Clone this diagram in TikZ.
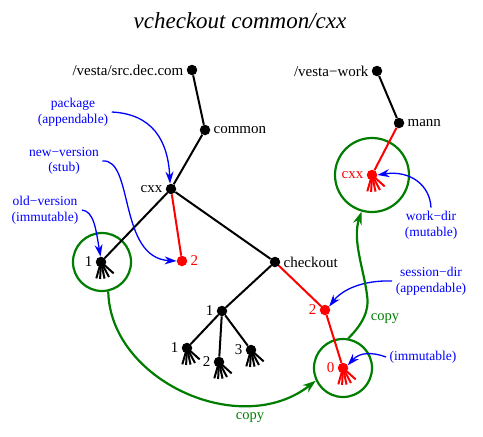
\documentclass[tikz,border=0pt]{standalone}
\usepackage{fontspec}
\setmainfont{Liberation Serif}
\usetikzlibrary{arrows.meta}
\definecolor{copygreen}{RGB}{0,125,0}

\begin{document}
\begin{tikzpicture}[x = 1pt, y = -1pt,
    dot/.style = {circle, fill, inner sep = 0pt, minimum size = 10.5pt},
    ring/.style = {circle, draw = copygreen, line width = 2.2pt, inner sep = 0pt},
    tree/.style = {line width = 2pt},
    note/.style = {blue, align = center, font = \fontsize{13.5}{15.5}\selectfont},
    notearrow/.style = {blue, line width = 1.3pt, -{Stealth[length = 12pt, width = 8pt]}},
    copyarrow/.style = {copygreen, line width = 2.2pt, -{Stealth[length = 13pt, width = 9pt]}},
    every label/.style = {font = \fontsize{15}{16}\selectfont, inner sep = 3pt}]
    \useasboundingbox (0,0) rectangle (483,437);

    \node[font = \itshape\fontsize{23}{26}\selectfont] (title) at (240,21) {vcheckout common/cxx};

    % repository side
    \node[dot, label = left:/vesta/src.dec.com] (src) at (192,70) {};
    \node[dot, label = right:common] (common) at (205,130) {};
    \node[dot, label = left:cxx] (cxx) at (171,189) {};
    \node[dot, label = left:1] (old) at (101,262) {};
    \node[dot, red, label = {[red]right:2}] (stub) at (182,261) {};
    \node[dot, label = right:checkout] (checkout) at (275,262) {};
    \node[dot, label = left:1] (co1) at (222,311) {};
    \node[dot, label = left:1] (kid1) at (187,348) {};
    \node[dot, label = left:2] (kid2) at (219,362) {};
    \node[dot, label = left:3] (kid3) at (251,350) {};
    \node[dot, red, label = {[red]left:2}] (sess) at (325,310) {};
    \node[dot, red, label = {[red]left:0}] (zero) at (343,368) {};

    % work side
    \node[dot, label = left:/vesta−work] (vwork) at (377,71) {};
    \node[dot, label = right:mann] (mann) at (399,123) {};
    \node[dot, red, label = {[red]left:cxx}] (work) at (372,175) {};

    \node[ring, minimum size = 58pt] (oldring) at (102,262) {};
    \node[ring, minimum size = 58pt] (zeroring) at (343,368) {};
    \node[ring, minimum size = 74pt] (workring) at (372,175) {};

    \draw[tree]
        (src) -- (common) -- (cxx) -- (old)
        (cxx) -- (checkout) -- (co1) -- (kid1)
        (co1) -- (kid2)
        (co1) -- (kid3)
        (vwork) -- (mann);
    \draw[tree, red]
        (cxx) -- (stub)
        (checkout) -- (sess) -- (zero)
        (mann) -- (work);

    % brushes under the versions
    \foreach \n in {old, kid1, kid2, kid3}
        \foreach \a in {106, 93, 78, 62, 42}
            \draw[line width = 2pt] (\n.center) -- ++(\a:17);
    \foreach \n in {zero, work}
        \foreach \a in {106, 93, 78, 62, 42}
            \draw[line width = 2pt, red] (\n.center) -- ++(\a:17);

    % annotations
    \node[note] (pkg) at (73,112) {package\\(appendable)};
    \node[note] (newv) at (64,161) {new−version\\(stub)};
    \node[note] (oldv) at (45,210) {old−version\\(immutable)};
    \node[note] (workdir) at (431,225) {work−dir\\(mutable)};
    \node[note] (sessdir) at (431,281) {session−dir\\(appendable)};
    \node[note] (immut) at (423,357) {(immutable)};

    \draw[notearrow] (pkg.east) .. controls (152,114) and (168,140) .. (cxx.100);
    \draw[notearrow] (newv.east) .. controls (134,158) and (118,258) .. (stub.west);
    \draw[notearrow] (oldv.east) .. controls (94,211) and (96,230) .. (old.95);
    \draw[notearrow] (workdir.north) .. controls (430,185) and (410,170) .. (work.east);
    \draw[notearrow] (sessdir.west) .. controls (362,280) and (342,290) .. (sess.40);
    \draw[notearrow] (immut.west) .. controls (372,352) and (360,352) .. (zero.30);

    % copies
    \draw[copyarrow] (oldring.-78) .. controls (110,380) and (240,440) .. (zeroring.-155);
    \node[copygreen, font = \fontsize{14.5}{16}\selectfont] (copy1) at (250,418) {copy};
    \draw[copyarrow] (zeroring.80) .. controls (362,325) and (370,310) .. (367,295)
        .. controls (364,270) and (352,240) .. (workring.-106);
    \node[copygreen, font = \fontsize{14.5}{16}\selectfont] (copy2) at (385,319) {copy};
\end{tikzpicture}
\end{document}
